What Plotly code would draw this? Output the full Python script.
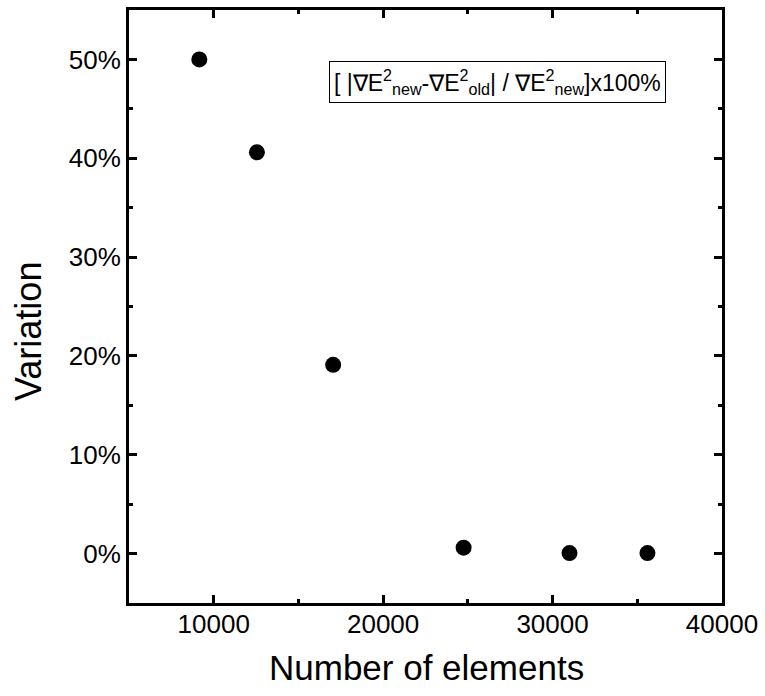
import plotly.graph_objects as go

elements = [9150, 12550, 17050, 24750, 31000, 35600]
variation = [50.0, 40.6, 19.1, 0.6, 0.05, 0.05]
x_ticks = [10000, 20000, 30000, 40000]
x_ticktext = ["10000", "20000", "30000", "40000"]
y_ticks = [0, 10, 20, 30, 40, 50]
y_ticktext = ["0%", "10%", "20%", "30%", "40%", "50%"]
x_title = "Number of elements"
y_title = "Variation"
legend_text = "[ |∇E<sup>2</sup><sub>new</sub>-∇E<sup>2</sup><sub>old</sub>| / ∇E<sup>2</sup><sub>new</sub>]x100%"

FONT = "Liberation Sans, Arial, sans-serif"
W, H = 765, 696
L, R, T, B = 129, 722, 10, 603

fig = go.Figure()
fig.add_trace(go.Scatter(
    x=elements, y=variation, mode="markers",
    marker=dict(color="black", size=16, line=dict(width=0)),
    showlegend=False,
))

fig.update_layout(
    width=W, height=H,
    margin=dict(l=L, r=W - R, t=T, b=H - B, autoexpand=False),
    plot_bgcolor="white", paper_bgcolor="white",
    font=dict(family=FONT, color="black"),
    xaxis=dict(
        range=[5000, 40000], tickmode="array", tickvals=x_ticks, ticktext=x_ticktext,
        showline=True, linecolor="black", linewidth=3, mirror="allticks",
        ticks="inside", ticklen=8, tickwidth=3, tickcolor="black",
        showgrid=False, zeroline=False, automargin=False,
        minor=dict(dtick=5000, tick0=0, ticks="inside", ticklen=4, tickwidth=3, tickcolor="black"),
        tickfont=dict(family=FONT, size=26, color="black"),
        ticklabelstandoff=-4,
    ),
    yaxis=dict(
        range=[-5, 55], tickmode="array", tickvals=y_ticks, ticktext=y_ticktext,
        showline=True, linecolor="black", linewidth=3, mirror="allticks",
        ticks="inside", ticklen=8, tickwidth=3, tickcolor="black",
        showgrid=False, zeroline=False, automargin=False,
        minor=dict(dtick=5, tick0=0, ticks="inside", ticklen=4, tickwidth=3, tickcolor="black"),
        tickfont=dict(family=FONT, size=26, color="black"),
        ticklabelstandoff=0,
    ),
)

def px_x(p):
    return (p - L) / (R - L)

def px_y(p):
    return 1 - (p - T) / (B - T)

# axis titles
fig.add_annotation(x=px_x(426), y=px_y(667), xref="paper", yref="paper",
                   xanchor="center", yanchor="middle", showarrow=False,
                   text=x_title, font=dict(family=FONT, size=35, color="black"))
fig.add_annotation(x=px_x(28), y=px_y(332), xref="paper", yref="paper",
                   xanchor="center", yanchor="middle", showarrow=False, textangle=-90,
                   text=y_title, font=dict(family=FONT, size=36, color="black"))

# formula box
fig.add_annotation(
    x=px_x((329 + 665) / 2), y=px_y((63 + 102) / 2),
    xref="paper", yref="paper", xanchor="center", yanchor="middle",
    text=legend_text, showarrow=False,
    font=dict(family=FONT, size=23, color="black"),
    bordercolor="black", borderwidth=1, borderpad=4, bgcolor="white",
)

fig.write_html("out.html")
